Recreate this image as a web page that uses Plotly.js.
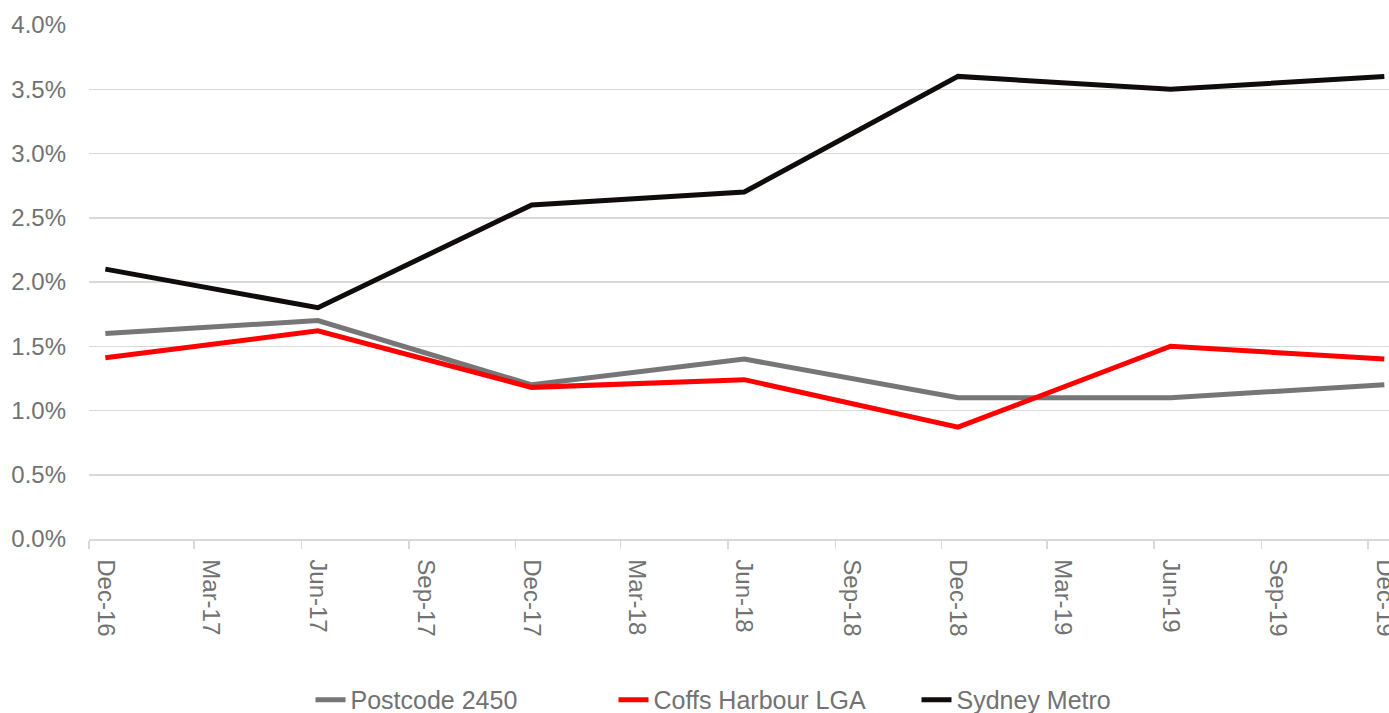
<!DOCTYPE html>
<html>
<head>
<meta charset="utf-8">
<script src="https://cdn.plot.ly/plotly-3.0.1.min.js"></script>
<style>html,body{margin:0;padding:0;background:#fff;}#chart{width:1389px;height:713px;}</style>
</head>
<body>
<div id="chart"></div>
<script>
// Data (half-yearly observations, mid-month)
const dates = ["2016-12-15","2017-06-15","2017-12-15","2018-06-15","2018-12-15","2019-06-15","2019-12-15"];
const postcode2450 = [1.60, 1.70, 1.20, 1.40, 1.10, 1.10, 1.20];
const coffsHarbourLGA = [1.41, 1.62, 1.18, 1.24, 0.87, 1.50, 1.40];
const sydneyMetro = [2.10, 1.80, 2.60, 2.70, 3.60, 3.50, 3.60];

// Quarterly tick labels
const tickDates = ["2016-12-15","2017-03-15","2017-06-15","2017-09-15","2017-12-15","2018-03-15","2018-06-15","2018-09-15","2018-12-15","2019-03-15","2019-06-15","2019-09-15","2019-12-15"];
const tickLabels = ["Dec-16","Mar-17","Jun-17","Sep-17","Dec-17","Mar-18","Jun-18","Sep-18","Dec-18","Mar-19","Jun-19","Sep-19","Dec-19"];
const yTickVals = [0,0.5,1,1.5,2,2.5,3,3.5,4];
const yTickText = ["0.0%","0.5%","1.0%","1.5%","2.0%","2.5%","3.0%","3.5%","4.0%"];

const font = "Arial, 'Liberation Sans', sans-serif";
const textGray = "#727272";

const traces = [
  {name:"Postcode 2450", x:dates, y:postcode2450, type:"scatter", mode:"lines", line:{color:"#767676", width:5}},
  {name:"Coffs Harbour LGA", x:dates, y:coffsHarbourLGA, type:"scatter", mode:"lines", line:{color:"#ff0000", width:5}},
  {name:"Sydney Metro", x:dates, y:sydneyMetro, type:"scatter", mode:"lines", line:{color:"#100c0c", width:5}}
];

const layout = {
  width:1389, height:713,
  margin:{l:89, r:0, t:25, b:174, autoexpand:false},
  paper_bgcolor:"#fff", plot_bgcolor:"#fff",
  font:{family:font, size:24, color:textGray},
  showlegend:true,
  legend:{orientation:"h", x:0.52, xanchor:"center", y:-0.313, yanchor:"middle",
          font:{family:font, size:25, color:textGray}, entrywidth:258, entrywidthmode:"pixels"},
  xaxis:{
    type:"date",
    range:["2016-12-01","2019-12-19"],
    tickmode:"array", tickvals:tickDates, ticktext:tickLabels,
    tickangle:90, ticks:"", ticklabelstandoff:14, ticklabeloverflow:"allow",
    automargin:false,
    showgrid:false, zeroline:false,
    showline:true, linecolor:"#d9d9d9", linewidth:1.5,
    tickfont:{family:font, size:24, color:textGray},
    minor:{ticks:"outside", ticklen:8, tickcolor:"#d9d9d9", tickwidth:1.5, dtick:"M3", tick0:"2016-12-01", showgrid:false}
  },
  yaxis:{
    range:[0,4],
    automargin:false,
    tickmode:"array", tickvals:yTickVals, ticktext:yTickText,
    showgrid:true, gridcolor:"#d9d9d9", gridwidth:1.5,
    zeroline:false, showline:false, ticks:"", ticklabelstandoff:22,
    tickfont:{family:font, size:24, color:textGray}
  }
};

Plotly.newPlot("chart", traces, layout, {displayModeBar:false, staticPlot:true});
</script>
</body>
</html>
